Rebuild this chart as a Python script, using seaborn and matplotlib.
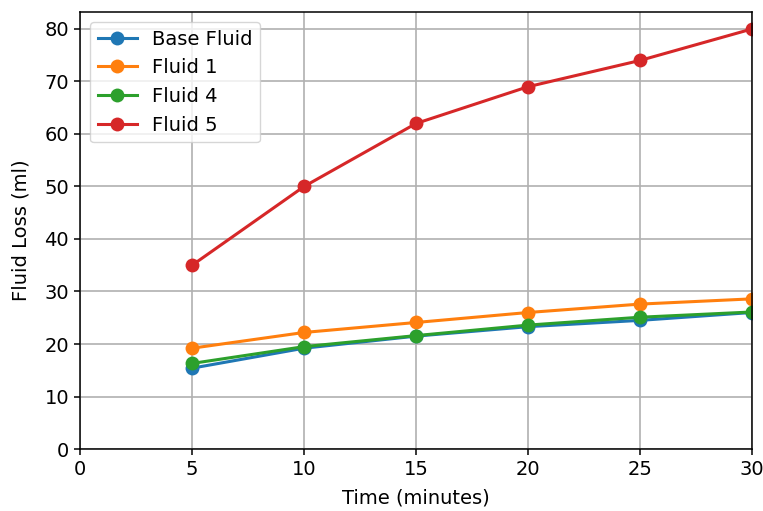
import numpy as np
import pandas as pd
import matplotlib
matplotlib.use('Agg')
import matplotlib.pyplot as plt
import seaborn as sns

time_min = [5, 10, 15, 20, 25, 30]
base_fluid = [15.4, 19.2, 21.5, 23.3, 24.5, 26.0]
fluid_1 = [19.2, 22.2, 24.1, 26.0, 27.6, 28.6]
fluid_4 = [16.3, 19.5, 21.6, 23.6, 25.1, 26.1]
fluid_5 = [35, 50, 62, 69, 74, 80]

series = {'Base Fluid': base_fluid, 'Fluid 1': fluid_1,
          'Fluid 4': fluid_4, 'Fluid 5': fluid_5}
colors = ['#1f77b4', '#ff7f0e', '#2ca02c', '#d62728']

fig = plt.figure(figsize=(7.63, 5.11), dpi=100)
ax = fig.add_axes([0.105, 0.1213, 0.8805, 0.8552])

for (name, vals), c in zip(series.items(), colors):
    sns.lineplot(x=time_min, y=vals, ax=ax, color=c, marker='o',
                 markersize=10, markeredgewidth=0, linewidth=2.2, label=name)

ax.set_xlim(0, 30)
ax.set_ylim(bottom=0)
ax.grid(True, color='#b0b0b0', linewidth=1.2)
ax.set_axisbelow(True)
ax.set_xlabel('Time (minutes)', fontsize=14, labelpad=7)
ax.set_ylabel('Fluid Loss (ml)', fontsize=14, labelpad=10)
ax.tick_params(labelsize=14, length=4.5, width=1.1)
for s in ax.spines.values():
    s.set_linewidth(1.1)
ax.legend(loc='upper left', fontsize=14)

fig.savefig('out.png', dpi=100)
